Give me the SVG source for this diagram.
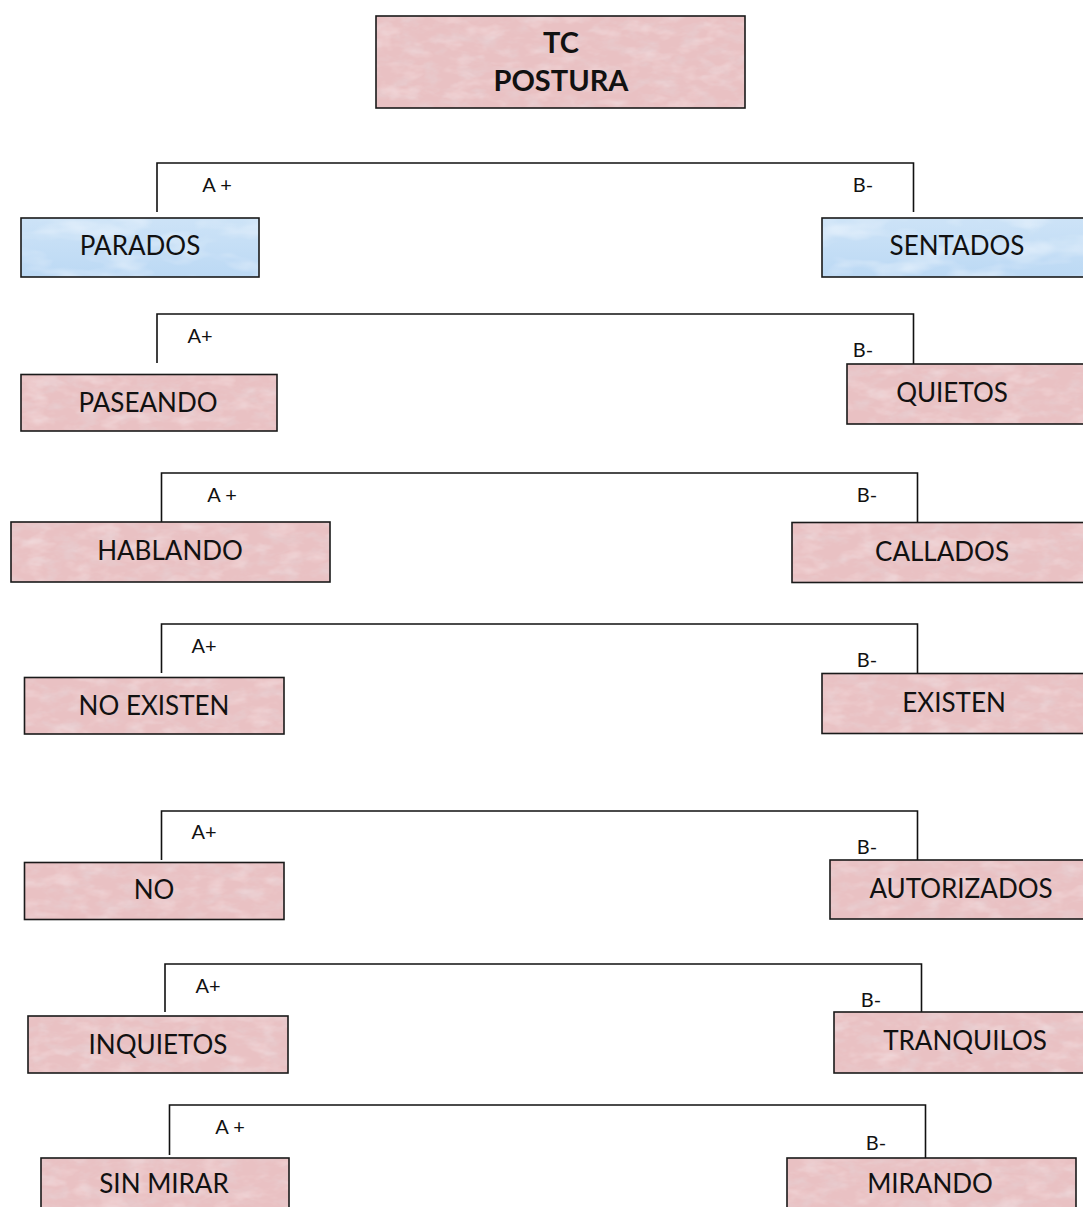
<svg xmlns="http://www.w3.org/2000/svg" width="1083" height="1207" viewBox="0 0 1083 1207">
<defs>
<filter id="pinktex" x="0" y="0" width="100%" height="100%">
<feTurbulence type="fractalNoise" baseFrequency="0.05 0.09" numOctaves="4" seed="5" result="n"/>
<feColorMatrix in="n" type="matrix" values="0 0 0 0 0.80  0 0 0 0 0.62  0 0 0 0 0.64  1.8 0 0 0 -0.8" result="c"/>
<feComposite in="c" in2="SourceGraphic" operator="atop" result="d"/>
<feTurbulence type="fractalNoise" baseFrequency="0.04 0.08" numOctaves="3" seed="11" result="n2"/>
<feColorMatrix in="n2" type="matrix" values="0 0 0 0 0.95  0 0 0 0 0.82  0 0 0 0 0.83  1.0 0 0 0 -0.5" result="c2"/>
<feComposite in="c2" in2="d" operator="atop"/>
</filter>
<filter id="bluetex" x="0" y="0" width="100%" height="100%">
<feTurbulence type="fractalNoise" baseFrequency="0.02 0.05" numOctaves="3" seed="8" result="n"/>
<feColorMatrix in="n" type="matrix" values="0 0 0 0 0.90  0 0 0 0 0.95  0 0 0 0 1  1.2 0 0 0 -0.55" result="c"/>
<feComposite in="c" in2="SourceGraphic" operator="atop"/>
</filter>
<linearGradient id="bluegrad" x1="0" y1="0" x2="0" y2="1">
<stop offset="0" stop-color="#cde3f7"/>
<stop offset="1" stop-color="#bcd9f4"/>
</linearGradient>
</defs>
<style>
.fill-pink{fill:#e9c1c3;filter:url(#pinktex)}
.fill-blue{fill:url(#bluegrad);filter:url(#bluetex)}
.frame{fill:none;stroke:#1a1a1a;stroke-width:1.6}
.t{font-family:Lato,"Open Sans","Liberation Sans",sans-serif;font-size:26px;fill:#111;text-anchor:middle}
.tb{font-family:Lato,"Open Sans","Liberation Sans",sans-serif;font-size:29px;font-weight:bold;fill:#111;text-anchor:middle}
.lbl{font-family:Lato,"Open Sans","Liberation Sans",sans-serif;font-size:20px;fill:#111;text-anchor:middle}
.conn{fill:none;stroke:#111;stroke-width:1.6}
</style>
<rect width="1083" height="1207" fill="#ffffff"/>

<g id="connectors">
<path class="conn" d="M157 212 V163 H913.5 V212"/>
<path class="conn" d="M157 363 V314 H913.5 V364"/>
<path class="conn" d="M161.5 522 V473 H917.5 V522"/>
<path class="conn" d="M161.5 673 V624 H917.5 V673"/>
<path class="conn" d="M161.5 860 V811 H917.5 V860"/>
<path class="conn" d="M165 1012 V964 H921.5 V1012"/>
<path class="conn" d="M169.5 1155 V1105 H925.5 V1158"/>
<text class="lbl" x="217" y="192">A +</text>
<text class="lbl" x="863" y="192">B-</text>
<text class="lbl" x="200" y="343">A+</text>
<text class="lbl" x="863" y="357">B-</text>
<text class="lbl" x="222" y="502">A +</text>
<text class="lbl" x="867" y="502">B-</text>
<text class="lbl" x="204" y="653">A+</text>
<text class="lbl" x="867" y="667">B-</text>
<text class="lbl" x="204" y="839">A+</text>
<text class="lbl" x="867" y="854">B-</text>
<text class="lbl" x="208" y="993">A+</text>
<text class="lbl" x="871" y="1007">B-</text>
<text class="lbl" x="230" y="1134">A +</text>
<text class="lbl" x="876" y="1150">B-</text>
</g>

<g id="n-tc-postura">
<rect class="fill-pink" x="376" y="16" width="369" height="92"/>
<rect class="frame" x="376" y="16" width="369" height="92"/>
<text class="tb" x="561" y="53">TC</text>
<text class="tb" x="561" y="91">POSTURA</text>
</g>

<g id="n-parados">
<rect class="fill-blue" x="21" y="218" width="238" height="59"/>
<rect class="frame" x="21" y="218" width="238" height="59"/>
<text class="t" x="140" y="255">PARADOS</text>
</g>
<g id="n-sentados">
<rect class="fill-blue" x="822" y="218" width="270" height="59"/>
<rect class="frame" x="822" y="218" width="270" height="59"/>
<text class="t" x="957" y="255">SENTADOS</text>
</g>

<g id="n-paseando">
<rect class="fill-pink" x="21" y="374.5" width="256" height="56.5"/>
<rect class="frame" x="21" y="374.5" width="256" height="56.5"/>
<text class="t" x="148" y="412">PASEANDO</text>
</g>
<g id="n-quietos">
<rect class="fill-pink" x="847" y="364" width="245" height="60"/>
<rect class="frame" x="847" y="364" width="245" height="60"/>
<text class="t" x="952" y="402">QUIETOS</text>
</g>

<g id="n-hablando">
<rect class="fill-pink" x="11" y="522" width="319" height="60"/>
<rect class="frame" x="11" y="522" width="319" height="60"/>
<text class="t" x="170" y="560">HABLANDO</text>
</g>
<g id="n-callados">
<rect class="fill-pink" x="792" y="522.5" width="300" height="60"/>
<rect class="frame" x="792" y="522.5" width="300" height="60"/>
<text class="t" x="942" y="561">CALLADOS</text>
</g>

<g id="n-no-existen">
<rect class="fill-pink" x="24.5" y="677.5" width="259.5" height="56.5"/>
<rect class="frame" x="24.5" y="677.5" width="259.5" height="56.5"/>
<text class="t" x="154" y="715">NO EXISTEN</text>
</g>
<g id="n-existen">
<rect class="fill-pink" x="822" y="673.5" width="270" height="60"/>
<rect class="frame" x="822" y="673.5" width="270" height="60"/>
<text class="t" x="954" y="712">EXISTEN</text>
</g>

<g id="n-no">
<rect class="fill-pink" x="24.5" y="862.5" width="259.5" height="57"/>
<rect class="frame" x="24.5" y="862.5" width="259.5" height="57"/>
<text class="t" x="154" y="899">NO</text>
</g>
<g id="n-autorizados">
<rect class="fill-pink" x="830" y="860" width="262" height="59"/>
<rect class="frame" x="830" y="860" width="262" height="59"/>
<text class="t" x="961" y="898">AUTORIZADOS</text>
</g>

<g id="n-inquietos">
<rect class="fill-pink" x="28" y="1016" width="260" height="57"/>
<rect class="frame" x="28" y="1016" width="260" height="57"/>
<text class="t" x="158" y="1054">INQUIETOS</text>
</g>
<g id="n-tranquilos">
<rect class="fill-pink" x="834" y="1012" width="258" height="61"/>
<rect class="frame" x="834" y="1012" width="258" height="61"/>
<text class="t" x="965" y="1050">TRANQUILOS</text>
</g>

<g id="n-sin-mirar">
<rect class="fill-pink" x="41" y="1158" width="248" height="60"/>
<rect class="frame" x="41" y="1158" width="248" height="60"/>
<text class="t" x="164" y="1193">SIN MIRAR</text>
</g>
<g id="n-mirando">
<rect class="fill-pink" x="787" y="1158" width="289" height="60"/>
<rect class="frame" x="787" y="1158" width="289" height="60"/>
<text class="t" x="930" y="1193">MIRANDO</text>
</g>
</svg>
